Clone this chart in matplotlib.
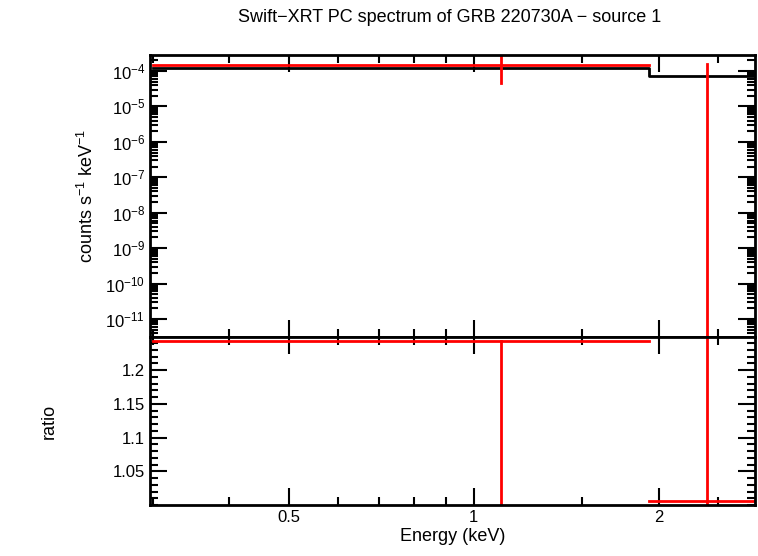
import matplotlib
matplotlib.use('Agg')
import matplotlib.pyplot as plt
from matplotlib.ticker import LogLocator, FixedLocator, NullFormatter, MultipleLocator

plt.rcParams['font.family'] = ['Liberation Sans', 'DejaVu Sans']
plt.rcParams['mathtext.fontset'] = 'custom'
plt.rcParams['mathtext.rm'] = 'Liberation Sans'

# data bins (keV)
bin_lo = [0.3, 1.926]
bin_hi = [1.926, 2.87]
bin_c = [1.107, 2.394]
rate = [1.48e-4, 1e-13]
rate_lo = [4.6e-5, 1e-13]
rate_hi = [3e-4, 1.6e-4]
model = [1.2e-4, 7.2e-5]
ratio = [1.243, 1.006]
ratio_lo = [0.9, 0.9]
ratio_hi = [1.243, 1.5]

fig = plt.figure(figsize=(7.58, 5.56), dpi=100)
ax1 = fig.add_axes([150/758, 1-337/556, 605/758, 282/556])
ax2 = fig.add_axes([150/758, 1-505/556, 605/758, 168/556], sharex=ax1)

ax1.set_xscale('log')
ax1.set_yscale('log')
ax1.set_xlim(0.297, 2.87)
ax1.set_ylim(10**-11.51, 10**-3.548)
ax2.set_ylim(1.0, 1.249)

# model steps
mx, my = [], []
for lo, hi, m in zip(bin_lo, bin_hi, model):
    mx += [lo, hi]
    my += [m, m]
ax1.plot(mx, my, color='black', lw=2)

for i in range(len(bin_c)):
    ax1.plot([bin_lo[i], bin_hi[i]], [rate[i], rate[i]], color='red', lw=2)
    ax1.plot([bin_c[i], bin_c[i]], [rate_lo[i], rate_hi[i]], color='red', lw=2)
    ax2.plot([bin_lo[i], bin_hi[i]], [ratio[i], ratio[i]], color='red', lw=2)
    ax2.plot([bin_c[i], bin_c[i]], [ratio_lo[i], ratio_hi[i]], color='red', lw=2)

for ax in (ax1, ax2):
    for s in ax.spines.values():
        s.set_linewidth(2)
    ax.tick_params(which='both', direction='in', top=True, right=True,
                   width=1.5, labelsize=12)
    ax.tick_params(which='major', length=12)
    ax.tick_params(which='minor', length=6)

ax1.yaxis.set_major_locator(FixedLocator([10.0**k for k in range(-11, -3)]))
ax1.yaxis.set_minor_locator(LogLocator(base=10, subs=range(2, 10), numticks=50))
ax1.yaxis.set_minor_formatter(NullFormatter())
ax1.tick_params(labelbottom=False)
ax1.set_ylabel('counts s$^{-1}$ keV$^{-1}$', fontsize=13, labelpad=6)

ax2.xaxis.set_major_locator(FixedLocator([0.5, 1, 2]))
ax2.set_xticklabels(['0.5', '1', '2'])
ax2.xaxis.set_minor_locator(FixedLocator([0.3, 0.4, 0.6, 0.7, 0.8, 0.9, 1.5, 2.5]))
ax2.xaxis.set_minor_formatter(NullFormatter())
ax2.yaxis.set_major_locator(FixedLocator([1.05, 1.1, 1.15, 1.2]))
ax2.set_yticklabels(['1.05', '1.1', '1.15', '1.2'])
ax2.yaxis.set_minor_locator(MultipleLocator(0.01))
ax2.set_ylabel('ratio', fontsize=13, labelpad=40)
ax2.set_xlabel('Energy (keV)', fontsize=13, labelpad=2)

fig.text(450/758, 1-18/556, 'Swift\u2212XRT PC spectrum of GRB 220730A \u2212 source 1',
         ha='center', va='center', fontsize=13)

fig.savefig('out.png', dpi=100)
